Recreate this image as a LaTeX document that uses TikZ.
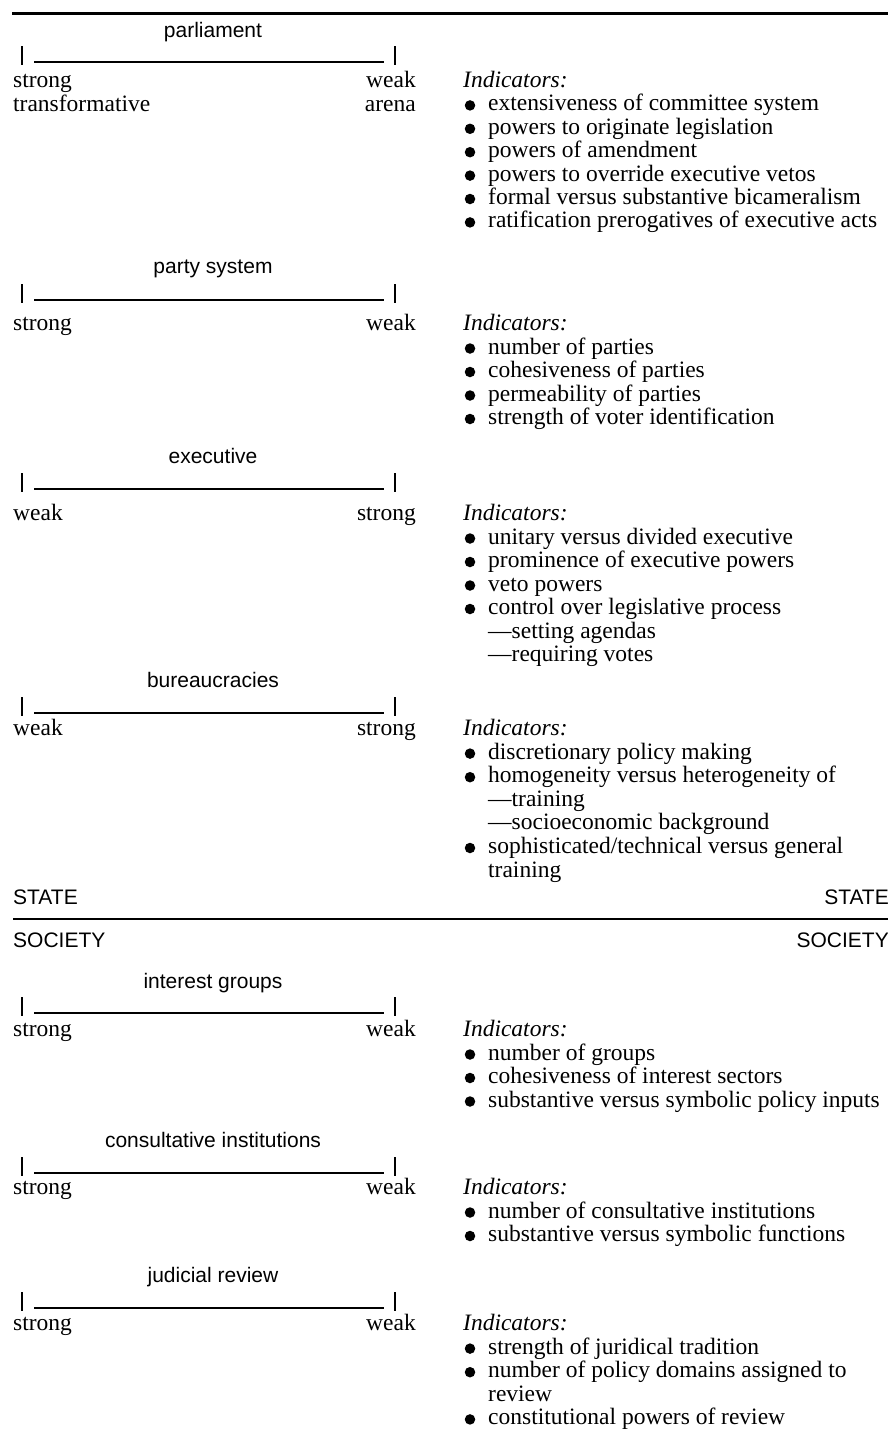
\documentclass[tikz,border=0pt]{standalone}
\usepackage{fontspec}
\setmainfont{Liberation Serif}
\setsansfont{Liberation Sans}
\usepackage{tikz}
\usetikzlibrary{positioning}
\newcommand\bodyfont{\fontsize{23.5}{23.5}\selectfont}
\newcommand\labelfont{\sffamily\fontsize{21}{23}\selectfont}

\begin{document}
\begin{tikzpicture}[
        x=1pt, y=-1pt,
        title/.style={font=\labelfont, inner sep=0pt, anchor=base, yshift=-5.5pt},
        side/.style={font=\labelfont, inner sep=0pt, yshift=-7.5pt},
        pole/.style={font=\bodyfont, inner sep=0pt, anchor=base west, yshift=-5.5pt},
        polr/.style={font=\bodyfont, inner sep=0pt, anchor=base east, yshift=-5.5pt},
        item/.style={font=\bodyfont, inner sep=0pt, anchor=base west, yshift=-5.5pt},
        head/.style={item, font=\bodyfont\itshape},
        dot/.style={circle, fill=black, inner sep=0pt, minimum size=10.5pt},
        bar/.style={line width=1.1pt},
        tick/.style={line width=1.6pt},
        rule/.style={line width=1.3pt}
    ]
        \useasboundingbox (0,0) rectangle (888,1433);

        % Rules
        \draw[rule, line width=3pt] (12,13) -- (888,13);
        \draw[rule] (13,919) -- (888,919);

        % Scales
        \foreach \y in {62,300,489,713,1013,1173,1308} {
            \draw[tick] (22,\y-16) -- (22,\y+3);
            \draw[bar] (34,\y) -- (384,\y);
            \draw[tick] (395,\y-16) -- (395,\y+3);
        }

        % Parliament
        \node[title] (parlT) at (213,32) {parliament};
        \node[pole] (parlL) at (13,82) {strong};
        \node[pole] (parlL2) at (13,105.5) {transformative};
        \node[polr] (parlR) at (416,82) {weak};
        \node[polr] (parlR2) at (416,105.5) {arena};
        \node[head] (parlI) at (463,82) {Indicators:};
        \foreach \t [count=\i] in {extensiveness of committee system, powers to originate legislation,
            powers of amendment, powers to override executive vetos,
            formal versus substantive bicameralism, ratification prerogatives of executive acts} {
            \node[item] (parl\i) at (488,82+23.4*\i) {\t};
            \node[dot] (parldot\i) at (470,82+23.4*\i) {};
        }

        % Party system
        \node[title] (partyT) at (213,268) {party system};
        \node[pole] (partyL) at (13,325) {strong};
        \node[polr] (partyR) at (416,325) {weak};
        \node[head] (partyI) at (463,325) {Indicators:};
        \foreach \t [count=\i] in {number of parties, cohesiveness of parties,
            permeability of parties, strength of voter identification} {
            \node[item] (party\i) at (488,325+23.5*\i) {\t};
            \node[dot] (partydot\i) at (470,325+23.5*\i) {};
        }

        % Executive
        \node[title] (execT) at (213,458) {executive};
        \node[pole] (execL) at (13,515) {weak};
        \node[polr] (execR) at (416,515) {strong};
        \node[head] (execI) at (463,515) {Indicators:};
        \foreach \t [count=\i] in {unitary versus divided executive, prominence of executive powers,
            veto powers, control over legislative process, —setting agendas, —requiring votes} {
            \node[item] (exec\i) at (488,515+23.5*\i) {\t};
        }
        \foreach \i in {1,...,4}
            \node[dot] (execdot\i) at (470,515+23.5*\i) {};

        % Bureaucracies
        \node[title] (burT) at (213,682) {bureaucracies};
        \node[pole] (burL) at (13,730) {weak};
        \node[polr] (burR) at (416,730) {strong};
        \node[head] (burI) at (463,730) {Indicators:};
        \foreach \t [count=\i] in {discretionary policy making, homogeneity versus heterogeneity of,
            —training, —socioeconomic background, sophisticated/technical versus general, training} {
            \node[item] (bur\i) at (488,730+23.6*\i) {\t};
        }
        \foreach \i in {1,2,5}
            \node[dot] (burdot\i) at (470,730+23.6*\i) {};

        % State / Society
        \node[side, anchor=base west] (stateL) at (13,897) {STATE};
        \node[side, anchor=base east] (stateR) at (889,897) {STATE};
        \node[side, anchor=base west] (socL) at (13,940) {SOCIETY};
        \node[side, anchor=base east] (socR) at (889,940) {SOCIETY};

        % Interest groups
        \node[title] (intT) at (213,983) {interest groups};
        \node[pole] (intL) at (13,1031) {strong};
        \node[polr] (intR) at (416,1031) {weak};
        \node[head] (intI) at (463,1031) {Indicators:};
        \foreach \t [count=\i] in {number of groups, cohesiveness of interest sectors,
            substantive versus symbolic policy inputs} {
            \node[item] (int\i) at (488,1031+23.5*\i) {\t};
            \node[dot] (intdot\i) at (470,1031+23.5*\i) {};
        }

        % Consultative institutions
        \node[title] (conT) at (213,1142) {consultative institutions};
        \node[pole] (conL) at (13,1189) {strong};
        \node[polr] (conR) at (416,1189) {weak};
        \node[head] (conI) at (463,1189) {Indicators:};
        \foreach \t [count=\i] in {number of consultative institutions, substantive versus symbolic functions} {
            \node[item] (con\i) at (488,1189+23.5*\i) {\t};
            \node[dot] (condot\i) at (470,1189+23.5*\i) {};
        }

        % Judicial review
        \node[title] (judT) at (213,1277) {judicial review};
        \node[pole] (judL) at (13,1325) {strong};
        \node[polr] (judR) at (416,1325) {weak};
        \node[head] (judI) at (463,1325) {Indicators:};
        \foreach \t [count=\i] in {strength of juridical tradition, number of policy domains assigned to,
            review, constitutional powers of review} {
            \node[item] (jud\i) at (488,1325+23.6*\i) {\t};
        }
        \foreach \i in {1,2,4}
            \node[dot] (juddot\i) at (470,1325+23.6*\i) {};
    \end{tikzpicture}
\end{document}
